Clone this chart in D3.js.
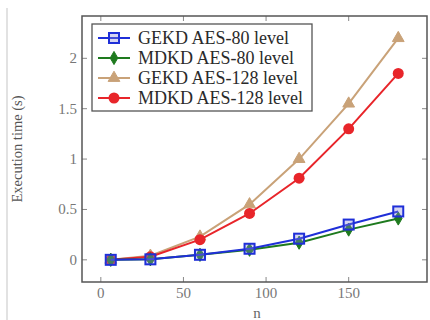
<!DOCTYPE html>
<html>
<head>
<meta charset="utf-8">
<script src="https://cdn.jsdelivr.net/npm/d3@7"></script>
<style>
  body { margin: 0; background: #fff; }
  svg { display: block; }
  svg text { font-family: "Liberation Serif", "DejaVu Serif", serif; }
</style>
</head>
<body>
<div id="chart"></div>
<script>
const nValues = [6, 30, 60, 90, 120, 150, 180];
const gekd80 = [0, 0.005, 0.05, 0.11, 0.21, 0.35, 0.48];
const mdkd80 = [0, 0.005, 0.05, 0.10, 0.17, 0.30, 0.41];
const gekd128 = [0, 0.04, 0.23, 0.55, 1.0, 1.55, 2.2];
const mdkd128 = [0, 0.03, 0.2, 0.46, 0.81, 1.30, 1.85];
const xTicks = [0, 50, 100, 150];
const yTicks = [0, 0.5, 1, 1.5, 2];
const seriesNames = ['GEKD AES-80 level', 'MDKD AES-80 level', 'GEKD AES-128 level', 'MDKD AES-128 level'];

const width = 430, height = 320;
const margin = { top: 16, right: 3, bottom: 38, left: 82 };

const svg = d3.select('#chart').append('svg')
  .attr('width', width).attr('height', height);

// faint border of the scanned figure
svg.append('line').attr('x1', 7).attr('x2', 7).attr('y1', 8).attr('y2', height)
  .attr('stroke', '#d8d8d8').attr('stroke-width', 1.5);

const x = d3.scaleLinear().domain([-11.4, 197.4]).range([margin.left, width - margin.right]);
const y = d3.scaleLinear().domain([-0.22, 2.42]).range([height - margin.bottom, margin.top]);

const x0 = margin.left, x1 = width - margin.right;
const y0 = height - margin.bottom, y1 = margin.top;
const tickLen = 5;

// inside ticks on all four sides
const axes = svg.append('g').attr('stroke', '#888').attr('stroke-width', 1);
xTicks.forEach(t => {
  axes.append('line').attr('x1', x(t)).attr('x2', x(t)).attr('y1', y0).attr('y2', y0 - tickLen);
  axes.append('line').attr('x1', x(t)).attr('x2', x(t)).attr('y1', y1).attr('y2', y1 + tickLen);
});
yTicks.forEach(t => {
  axes.append('line').attr('x1', x0).attr('x2', x0 + tickLen).attr('y1', y(t)).attr('y2', y(t));
  axes.append('line').attr('x1', x1).attr('x2', x1 - tickLen).attr('y1', y(t)).attr('y2', y(t));
});

svg.append('rect')
  .attr('x', x0).attr('y', y1).attr('width', x1 - x0).attr('height', y0 - y1)
  .attr('fill', 'none').attr('stroke', '#555').attr('stroke-width', 1.5);

svg.append('g').selectAll('text').data(xTicks).join('text')
  .attr('x', d => x(d)).attr('y', y0 + 16)
  .attr('text-anchor', 'middle').attr('font-size', 15).attr('fill', '#777')
  .text(d => d);

svg.append('g').selectAll('text').data(yTicks).join('text')
  .attr('x', x0 - 5).attr('y', d => y(d) + 5)
  .attr('text-anchor', 'end').attr('font-size', 15).attr('fill', '#777')
  .text(d => d);

svg.append('text')
  .attr('x', 257).attr('y', 318)
  .attr('text-anchor', 'middle').attr('font-size', 15).attr('fill', '#666')
  .text('n');

svg.append('text')
  .attr('transform', `translate(22,${(y0 + y1) / 2}) rotate(-90)`)
  .attr('text-anchor', 'middle').attr('font-size', 14.5).attr('fill', '#555')
  .text('Execution time (s)');

const series = [
  { name: seriesNames[0], values: gekd80, color: '#1f2fd8', marker: 'square' },
  { name: seriesNames[1], values: mdkd80, color: '#1e7a1e', marker: 'diamond' },
  { name: seriesNames[2], values: gekd128, color: '#c9a278', marker: 'triangle' },
  { name: seriesNames[3], values: mdkd128, color: '#e8252a', marker: 'circle' }
];

const line = d3.line().x(d => x(d[0])).y(d => y(d[1]));

function drawMarker(g, type, cx, cy, color) {
  if (type === 'square') {
    g.append('rect').attr('x', cx - 5).attr('y', cy - 5).attr('width', 10).attr('height', 10)
      .attr('fill', '#8a8ad8').attr('fill-opacity', 0.35).attr('stroke', color).attr('stroke-width', 2);
  } else if (type === 'diamond') {
    g.append('path').attr('d', d3.symbol(d3.symbolDiamond, 50)()).attr('transform', `translate(${cx},${cy})`)
      .attr('fill', color).attr('stroke', color);
  } else if (type === 'triangle') {
    g.append('path').attr('d', d3.symbol(d3.symbolTriangle, 60)()).attr('transform', `translate(${cx},${cy})`)
      .attr('fill', color).attr('stroke', color);
  } else {
    g.append('circle').attr('cx', cx).attr('cy', cy).attr('r', 5.5).attr('fill', color);
  }
}

// draw from back to front so the 80-level lines sit on top like in the original
[2, 3, 1, 0].forEach(i => {
  const s = series[i];
  const pts = nValues.map((n, k) => [n, s.values[k]]);
  svg.append('path').datum(pts)
    .attr('fill', 'none').attr('stroke', s.color).attr('stroke-width', 2)
    .attr('d', line);
  const g = svg.append('g');
  pts.forEach(p => drawMarker(g, s.marker, x(p[0]), y(p[1]), s.color));
});

// legend
const legend = svg.append('g');
legend.append('rect')
  .attr('x', 92).attr('y', 24).attr('width', 220).attr('height', 87)
  .attr('fill', '#fff').attr('stroke', '#555').attr('stroke-width', 1.3);
series.forEach((s, i) => {
  const ly = 38 + i * 20;
  legend.append('line').attr('x1', 98).attr('x2', 130).attr('y1', ly).attr('y2', ly)
    .attr('stroke', s.color).attr('stroke-width', 2);
  drawMarker(legend, s.marker, 114, ly, s.color);
  legend.append('text').attr('x', 138).attr('y', ly + 5.5)
    .attr('font-size', 18).attr('fill', '#2a2a2a')
    .text(s.name);
});
</script>
</body>
</html>
